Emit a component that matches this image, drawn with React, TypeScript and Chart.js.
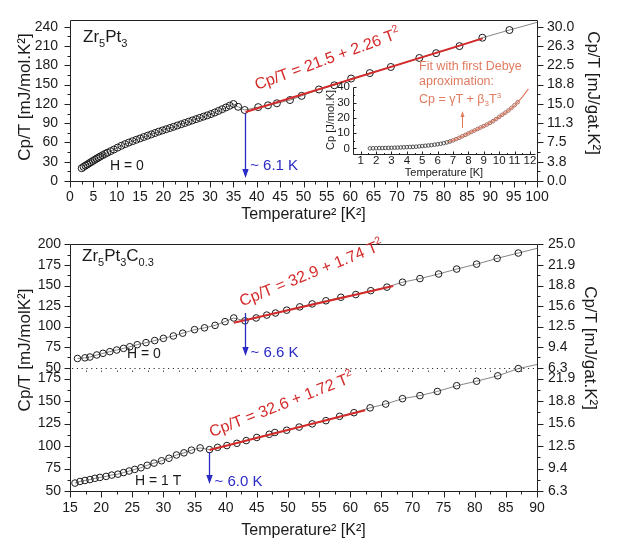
import React, { useEffect, useRef } from 'react';
import { Chart, registerables } from 'chart.js';

Chart.register(...registerables);

// ================= DATA =================
// Top panel: Zr5Pt3, H = 0. x = T^2 [K^2], y = Cp/T [mJ/mol K^2]
const topT2 = [
  2.5, 2.9, 3.3, 3.7, 4.1, 4.5, 4.9, 5.3, 5.7, 6.1,
  6.5, 7.0, 7.5, 8.0, 8.7, 9.4, 10.2, 11.0, 11.8, 12.6,
  13.4, 14.2, 15.0, 15.8, 16.6, 17.4, 18.2, 19.0, 19.8, 20.6,
  21.4, 22.2, 23.0, 23.8, 24.6, 25.4, 26.2, 27.0, 27.8, 28.6,
  29.4, 30.2, 31.0, 31.8, 32.6, 33.4, 34.2, 35.0, 36.0, 37.4,
  40.3, 42.4, 44.3, 47.1, 49.6, 53.3, 56.6, 60.2, 64.2, 68.7,
  74.8, 78.4, 83.4, 88.3, 94.1, 101.5,
];
const topCpT = [
  19.9, 22.0, 23.9, 25.7, 27.6, 29.4, 31.2, 33.0, 34.8, 36.5,
  38.2, 40.2, 42.2, 44.0, 46.5, 49.0, 52.0, 54.8, 57.4, 59.8,
  62.0, 64.2, 66.3, 68.4, 70.5, 72.6, 74.7, 76.8, 78.7, 80.6,
  82.5, 84.4, 86.4, 88.3, 90.3, 92.3, 94.3, 96.3, 98.3, 100.2,
  102.2, 104.2, 106.6, 109.1, 111.8, 114.5, 117.2, 119.8, 115.5, 110.5,
  115.0, 117.8, 121.0, 126.0, 132.5, 142.5, 149.0, 159.5, 168.0, 177.5,
  191.5, 199.0, 210.0, 223.0, 235.0, 250.0,
];
const topFitT2 = [37.6, 88.4];
const topFitCpT = [107.5, 222.0];
const topTcT2 = 37.5; // ~6.1 K

// Inset: Cp [J/mol K] vs T [K]
const insetT = [
  1.6, 1.8, 2.0, 2.2, 2.4, 2.6, 2.8, 3.0, 3.2, 3.4,
  3.6, 3.8, 4.0, 4.2, 4.4, 4.6, 4.8, 5.0, 5.2, 5.4,
  5.6, 5.8, 6.0, 6.2, 6.4, 6.6, 6.8, 7.0, 7.2, 7.4,
  7.6, 7.8, 8.0, 8.2, 8.4, 8.6, 8.8, 9.0, 9.2, 9.4,
  9.6, 9.8, 10.0, 10.2, 10.4, 10.6, 10.8, 11.0, 11.2,
];
const insetCp = [
  0.0, 0.05, 0.1, 0.15, 0.2, 0.25, 0.3, 0.35, 0.4, 0.5,
  0.6, 0.7, 0.8, 0.9, 1.0, 1.1, 1.3, 1.5, 1.7, 1.9,
  2.1, 2.4, 2.7, 3.0, 3.4, 3.9, 4.5, 5.2, 6.0, 6.9,
  7.9, 8.8, 9.8, 10.8, 11.7, 12.7, 13.7, 14.6, 15.6, 16.7,
  17.8, 19.2, 20.6, 22.0, 23.4, 24.8, 26.5, 28.3, 30.2,
];
const insetFitT = [6.6, 7.0, 7.5, 8.0, 8.5, 9.0, 9.5, 10.0, 10.5, 11.0, 11.5, 11.9];
const insetFitCp = [4.0, 5.2, 7.3, 9.8, 12.1, 14.5, 17.3, 20.5, 24.0, 28.0, 33.5, 39.0];
const insetArrowT = 7.6;

// Bottom panel: Zr5Pt3C0.3, H = 0
const h0T2 = [
  16.2, 17.4, 18.2, 19.3, 20.3, 21.4, 22.5, 23.6, 24.6, 25.8,
  27.2, 28.6, 30.0, 31.6, 33.1, 35.0, 36.6, 38.3, 39.9, 41.3,
  43.1, 44.9, 46.6, 48.0, 49.8, 51.9, 53.9, 56.1, 58.5, 60.9,
  63.3, 65.9, 68.4, 71.2, 74.2, 77.1, 80.3, 83.6, 87.0, 92.0,
];
const h0CpT = [
  61.2, 62.0, 63.0, 65.5, 67.5, 69.5, 71.5, 73.5, 75.5, 78.0,
  80.5, 83.0, 85.7, 88.6, 92.0, 96.3, 98.5, 101.5, 106.0, 110.5,
  107.0, 110.5, 114.0, 116.5, 120.0, 124.0, 127.6, 131.4, 135.7, 139.0,
  143.7, 148.0, 154.0, 158.4, 164.0, 170.0, 176.0, 183.0, 189.5, 199.0,
];
const h0FitT2 = [41.3, 66.9];
const h0FitCpT = [104.8, 149.3];
const h0TcT2 = 43.1; // ~6.6 K

// Bottom panel: Zr5Pt3C0.3, H = 1 T
const h1T2 = [
  15.8, 16.6, 17.4, 18.2, 19.0, 19.8, 20.8, 21.7, 22.7, 23.6,
  24.5, 25.4, 26.4, 27.4, 28.5, 29.7, 30.9, 32.1, 33.3, 34.5,
  35.9, 37.4, 38.7, 40.2, 41.8, 43.3, 45.0, 47.0, 47.9, 49.8,
  51.8, 53.9, 56.1, 58.3, 60.6, 63.2, 65.7, 68.4, 71.2, 74.0,
  77.1, 80.3, 83.7, 87.0, 92.0,
];
const h1CpT = [
  58.8, 60.6, 61.7, 62.7, 64.1, 65.1, 66.2, 67.7, 68.7, 70.5,
  72.2, 74.0, 75.8, 78.6, 81.0, 83.6, 86.4, 90.0, 92.4, 95.4,
  97.9, 96.0, 98.5, 100.5, 103.0, 106.0, 109.5, 113.0, 115.0, 117.5,
  121.0, 124.6, 128.2, 133.0, 137.0, 142.4, 146.6, 152.6, 156.0, 160.6,
  167.0, 172.0, 178.0, 186.0, 193.6,
];
const h1FitT2 = [37.4, 62.4];
const h1FitCpT = [95.5, 139.8];
const h1TcT2 = 37.4; // ~6.0 K

// ================= STYLE =================
const SANS = 'Arial, "Liberation Sans", Helvetica, sans-serif';
const TICK_FAMILY = SANS;
const RED = '#d42a2a';
const BLUE = '#2a2ac4';
const SALMON = '#e07b60';
const AXIS = '#222';
const INK = '#1a1a1a';

const pts = (xs: number[], ys: number[]) => xs.map((x, i) => ({ x, y: ys[i] }));
const isMajor = (v: number, m: number) => {
  const r = v / m;
  return Math.abs(r - Math.round(r)) < 1e-6;
};

function axis(
  position: string,
  min: number,
  max: number,
  step: number,
  major: number,
  pad: number,
  fit: number,
  fmt: (v: number) => string = (v) => String(v),
  extra: any = {},
  size = 14,
  family = TICK_FAMILY,
) {
  const horizontal = position === 'bottom';
  return {
    type: 'linear',
    position,
    min,
    max,
    grid: { display: false, drawTicks: false },
    border: { display: false },
    afterFit: (s: any) => {
      if (horizontal) s.height = fit;
      else s.width = fit;
    },
    ticks: {
      stepSize: step,
      autoSkip: false,
      includeBounds: false,
      maxRotation: 0,
      minRotation: 0,
      padding: pad,
      color: INK,
      font: { family, size },
      callback: (v: any) => (isMajor(Number(v), major) ? fmt(Number(v)) : ''),
    },
    ...extra,
  };
}

type Run = [string, number, number];
function drawRuns(ctx: CanvasRenderingContext2D, runs: Run[], x: number, y: number, color: string, rot = 0) {
  ctx.save();
  ctx.translate(x, y);
  ctx.rotate(rot);
  ctx.fillStyle = color;
  ctx.textAlign = 'left';
  ctx.textBaseline = 'alphabetic';
  let cx = 0;
  for (const [s, size, dy] of runs) {
    ctx.font = `${size}px ${SANS}`;
    ctx.fillText(s, cx, dy);
    cx += ctx.measureText(s).width;
  }
  ctx.restore();
}
function drawText(
  ctx: CanvasRenderingContext2D,
  s: string,
  x: number,
  y: number,
  size: number,
  color: string,
  align: CanvasTextAlign = 'left',
  rot = 0,
) {
  ctx.save();
  ctx.translate(x, y);
  ctx.rotate(rot);
  ctx.font = `${size}px ${SANS}`;
  ctx.fillStyle = color;
  ctx.textAlign = align;
  ctx.textBaseline = 'middle';
  ctx.fillText(s, 0, 0);
  ctx.restore();
}
function drawArrow(ctx: CanvasRenderingContext2D, x: number, yFrom: number, yTo: number, color: string, head = 9, half = 3.2, lw = 1.3) {
  const dir = yTo > yFrom ? 1 : -1;
  ctx.save();
  ctx.strokeStyle = color;
  ctx.fillStyle = color;
  ctx.lineWidth = lw;
  ctx.beginPath();
  ctx.moveTo(x, yFrom);
  ctx.lineTo(x, yTo - dir * head * 0.7);
  ctx.stroke();
  ctx.beginPath();
  ctx.moveTo(x, yTo);
  ctx.lineTo(x - half, yTo - dir * head);
  ctx.lineTo(x + half, yTo - dir * head);
  ctx.closePath();
  ctx.fill();
  ctx.restore();
}

// Frame + tick marks (major/minor) plugin
const axesPlugin = {
  id: 'axesDraw',
  afterDatasetsDraw(chart: any, _a: any, opts: any) {
    const specs = (opts && opts.ticks) || [];
    const frame: string[] = (opts && opts.frame) || [];
    const ctx: CanvasRenderingContext2D = chart.ctx;
    const ca = chart.chartArea;
    const L = Math.round(ca.left) + 0.5;
    const R = Math.round(ca.right) + 0.5;
    const T = Math.round(ca.top) + 0.5;
    const B = Math.round(ca.bottom) + 0.5;
    ctx.save();
    ctx.strokeStyle = AXIS;
    ctx.lineWidth = 1;
    ctx.beginPath();
    if (frame.includes('left')) { ctx.moveTo(L, T); ctx.lineTo(L, B); }
    if (frame.includes('right')) { ctx.moveTo(R, T); ctx.lineTo(R, B); }
    if (frame.includes('top')) { ctx.moveTo(L, T); ctx.lineTo(R, T); }
    if (frame.includes('bottom')) { ctx.moveTo(L, B); ctx.lineTo(R, B); }
    for (const sp of specs) {
      const sc = chart.scales[sp.id];
      if (!sc) continue;
      for (const t of sc.ticks) {
        const p = sc.getPixelForValue(t.value);
        const len = t.label ? sp.major : sp.minor;
        const q = Math.round(p) + 0.5;
        if (sp.side === 'left') { ctx.moveTo(L, q); ctx.lineTo(L - len, q); }
        if (sp.side === 'right') { ctx.moveTo(R, q); ctx.lineTo(R + len, q); }
        if (sp.side === 'bottom') { ctx.moveTo(q, B); ctx.lineTo(q, B + len); }
      }
    }
    ctx.stroke();
    ctx.restore();
  },
};

const baseOpts = {
  responsive: false,
  animation: false,
  devicePixelRatio: 1,
  events: [],
};
const noLegend = { legend: { display: false }, tooltip: { enabled: false } };
const dataStyle = (r: number) => ({
  showLine: true,
  borderColor: '#666',
  borderWidth: 0.8,
  pointRadius: r,
  pointBorderColor: INK,
  pointBackgroundColor: 'rgba(0,0,0,0)',
  pointBorderWidth: 1,
});
const fitStyle = { showLine: true, borderColor: RED, borderWidth: 2, pointRadius: 0 };

function topConfig(): any {
  const ann = {
    id: 'topAnn',
    afterDraw(chart: any) {
      const ctx = chart.ctx;
      const ca = chart.chartArea;
      const x = chart.scales.x;
      drawRuns(ctx, [['Zr', 17, 0], ['5', 11, 5], ['Pt', 17, 0], ['3', 11, 5]], ca.left + 13, ca.top + 22, INK);
      drawText(ctx, 'H = 0', ca.left + 40, 166, 14, INK);
      const xa = x.getPixelForValue(topTcT2);
      drawArrow(ctx, Math.round(xa) + 0.5, 113, ca.bottom - 3, BLUE);
      drawText(ctx, '~ 6.1 K', xa + 5, 166, 15, BLUE);
      drawRuns(ctx, [['Cp/T = 21.5 + 2.26 T', 16, 0], ['2', 10.5, -7]], 257, 90, RED, (-20 * Math.PI) / 180);
      drawText(ctx, 'Cp/T [mJ/mol.K²]', 25, 97, 17, INK, 'center', -Math.PI / 2);
      drawText(ctx, 'Cp/T [mJ/gat.K²]', 593, 93, 17, INK, 'center', Math.PI / 2);
    },
  };
  return {
    type: 'scatter',
    data: {
      datasets: [
        { data: pts(topFitT2, topFitCpT), ...fitStyle, clip: 0 },
        { data: pts(topT2, topCpT), ...dataStyle(3.5), clip: 0 },
      ],
    },
    options: {
      ...baseOpts,
      layout: { padding: { top: 9, left: 0, right: 0, bottom: 0 } },
      plugins: {
        ...noLegend,
        axesDraw: {
          frame: ['left', 'right', 'top', 'bottom'],
          ticks: [
            { id: 'x', side: 'bottom', major: 6, minor: 3 },
            { id: 'y', side: 'left', major: 6, minor: 3 },
            { id: 'y2', side: 'right', major: 6, minor: 3 },
          ],
        },
      },
      scales: {
        x: axis('bottom', 0, 100, 2.5, 5, 8, 44, (v) => String(v), {
          title: { display: true, text: 'Temperature² [K²]', color: INK, font: { family: SANS, size: 16 }, padding: { top: 0, bottom: 1 } },
        }),
        y: axis('left', 0, 250, 15, 30, 12, 70),
        y2: axis('right', 0, 250, 15, 30, 10, 85, (v) => (v / 8).toFixed(1)),
      },
    },
    plugins: [axesPlugin, ann],
  };
}

function insetConfig(): any {
  const ann = {
    id: 'insetAnn',
    afterDraw(chart: any) {
      const ctx = chart.ctx;
      drawText(ctx, 'Fit with first Debye', 119, 17, 12.5, SALMON);
      drawText(ctx, 'aproximation:', 119, 32, 12.5, SALMON);
      drawRuns(ctx, [['Cp = γT + β', 12.5, 0], ['3', 8, 3], ['T', 12.5, 0], ['3', 8, -5]], 119, 52.5, SALMON);
      const xa = Math.round(chart.scales.x.getPixelForValue(insetArrowT)) + 0.5;
      drawArrow(ctx, xa, 78, 61, SALMON, 6, 2, 1);
      drawText(ctx, 'Cp [J/mol.K]', 31, 70, 11, INK, 'center', -Math.PI / 2);
    },
  };
  return {
    type: 'scatter',
    data: {
      datasets: [
        { data: pts(insetFitT, insetFitCp), showLine: true, borderColor: SALMON, borderWidth: 1.2, pointRadius: 0, clip: false },
        {
          data: pts(insetT, insetCp),
          showLine: false,
          pointRadius: 1.8,
          pointBorderWidth: 0.8,
          pointBackgroundColor: 'rgba(0,0,0,0)',
          pointBorderColor: (c: any) => (c.raw && c.raw.x >= 7 ? '#8e4a3e' : '#333'),
        },
      ],
    },
    options: {
      ...baseOpts,
      layout: { padding: { top: 37, left: 0, right: 5, bottom: 0 } },
      plugins: {
        ...noLegend,
        axesDraw: {
          frame: ['left', 'bottom'],
          ticks: [
            { id: 'x', side: 'bottom', major: -3, minor: -1.5 },
            { id: 'y', side: 'left', major: -3, minor: -1.5 },
          ],
        },
      },
      scales: {
        x: axis('bottom', 0.5, 12.33, 0.5, 1, 0, 26, (v) => String(v), {
          title: { display: true, text: 'Temperature [K]', color: INK, font: { family: SANS, size: 11 }, padding: { top: 0, bottom: 0 } },
        }, 11.5, SANS),
        y: axis('left', -3.7, 40.2, 5, 10, 3, 53, (v) => String(v), {}, 11.5, SANS),
      },
    },
    plugins: [axesPlugin, ann],
  };
}

function bottomConfig(): any {
  const ann = {
    id: 'botAnn',
    afterDraw(chart: any) {
      const ctx = chart.ctx;
      const ca = chart.chartArea;
      const x = chart.scales.x;
      const sep = Math.round(chart.scales.yA.bottom) + 0.5;
      // dotted separator between the two sub-panels
      ctx.save();
      ctx.strokeStyle = '#333';
      ctx.lineWidth = 1;
      ctx.setLineDash([1.2, 3.6]);
      ctx.beginPath();
      ctx.moveTo(ca.left + 2, sep);
      ctx.lineTo(ca.right, sep);
      ctx.stroke();
      ctx.setLineDash([]);
      ctx.fillStyle = '#555';
      for (const t of x.ticks) {
        const px = Math.round(x.getPixelForValue(t.value));
        if (px <= ca.left + 1 || px >= ca.right - 1) continue;
        ctx.fillRect(px, sep + 2, 1, 1.5);
      }
      ctx.restore();

      drawRuns(
        ctx,
        [['Zr', 17, 0], ['5', 11, 5], ['Pt', 17, 0], ['3', 11, 5], ['C', 17, 0], ['0.3', 11, 5]],
        ca.left + 12,
        ca.top + 17,
        INK,
      );
      drawText(ctx, 'H = 0', 127, 129, 14, INK);
      const xa0 = Math.round(x.getPixelForValue(h0TcT2)) + 0.5;
      drawArrow(ctx, xa0, 88, 131, BLUE);
      drawText(ctx, '~ 6.6 K', xa0 + 5, 128, 15, BLUE);
      drawRuns(ctx, [['Cp/T = 32.9 + 1.74 T', 16, 0], ['2', 10.5, -7]], 242, 81.5, RED, (-22 * Math.PI) / 180);

      drawText(ctx, 'H = 1 T', 135, 256, 14, INK);
      const xa1 = Math.round(x.getPixelForValue(h1TcT2)) + 0.5;
      drawArrow(ctx, xa1, 227, 259, BLUE);
      drawText(ctx, '~ 6.0 K', xa1 + 5, 257, 15, BLUE);
      drawRuns(ctx, [['Cp/T = 32.6 + 1.72 T', 16, 0], ['2', 10.5, -7]], 211.7, 212.3, RED, (-21.4 * Math.PI) / 180);

      drawText(ctx, 'Cp/T [mJ/molK²]', 25, 125, 17, INK, 'center', -Math.PI / 2);
      drawText(ctx, 'Cp/T [mJ/gat.K²]', 590, 123, 17, INK, 'center', Math.PI / 2);
    },
  };
  const r8 = (v: number) => (v / 8).toFixed(1);
  return {
    type: 'scatter',
    data: {
      datasets: [
        { data: pts(h0FitT2, h0FitCpT), ...fitStyle, yAxisID: 'yA', clip: 0 },
        { data: pts(h1FitT2, h1FitCpT), ...fitStyle, yAxisID: 'yB', clip: 0 },
        { data: pts(h0T2, h0CpT), ...dataStyle(3.3), yAxisID: 'yA', clip: 0 },
        { data: pts(h1T2, h1CpT), ...dataStyle(3.3), yAxisID: 'yB', clip: { left: 0, right: 0, top: 8, bottom: 0 } },
      ],
    },
    options: {
      ...baseOpts,
      layout: { padding: { top: 8, left: 0, right: 0, bottom: 0 } },
      plugins: {
        ...noLegend,
        axesDraw: {
          frame: ['left', 'right', 'top', 'bottom'],
          ticks: [
            { id: 'x', side: 'bottom', major: 6, minor: 3 },
            { id: 'yA', side: 'left', major: 6, minor: 3 },
            { id: 'yB', side: 'left', major: 6, minor: 3 },
            { id: 'rA', side: 'right', major: 6, minor: 3 },
            { id: 'rB', side: 'right', major: 6, minor: 3 },
          ],
        },
      },
      scales: {
        x: axis('bottom', 15, 90, 2.5, 5, 9, 50, (v) => String(v), {
          title: { display: true, text: 'Temperature² [K²]', color: INK, font: { family: SANS, size: 16 }, padding: { top: 0, bottom: 1 } },
        }),
        yB: axis('left', 50, 187, 12.5, 25, 9, 70, (v) => String(v), { stack: 'L', stackWeight: 1 }),
        yA: axis('left', 50, 200, 12.5, 25, 9, 70, (v) => String(v), { stack: 'L', stackWeight: 1 }),
        rA: axis('right', 50, 200, 12.5, 25, 11, 85, r8, { stack: 'R', stackWeight: 1 }),
        rB: axis('right', 50, 187, 12.5, 25, 11, 85, r8, { stack: 'R', stackWeight: 1 }),
      },
    },
    plugins: [axesPlugin, ann],
  };
}

export default function App() {
  const topRef = useRef<HTMLCanvasElement>(null);
  const insetRef = useRef<HTMLCanvasElement>(null);
  const botRef = useRef<HTMLCanvasElement>(null);

  useEffect(() => {
    const charts: Chart[] = [];
    if (topRef.current) charts.push(new Chart(topRef.current, topConfig()));
    if (botRef.current) charts.push(new Chart(botRef.current, bottomConfig()));
    if (insetRef.current) charts.push(new Chart(insetRef.current, insetConfig()));
    return () => charts.forEach((c) => c.destroy());
  }, []);

  return (
    <div style={{ position: 'fixed', left: 0, top: 0, width: 622, height: 541, background: '#fff', overflow: 'hidden' }}>
      <canvas ref={topRef} width={622} height={225} style={{ position: 'absolute', left: 0, top: 0, display: 'block' }} />
      <canvas ref={botRef} width={622} height={316} style={{ position: 'absolute', left: 0, top: 225, display: 'block' }} />
      <canvas ref={insetRef} width={240} height={130} style={{ position: 'absolute', left: 300, top: 50, display: 'block' }} />
    </div>
  );
}
